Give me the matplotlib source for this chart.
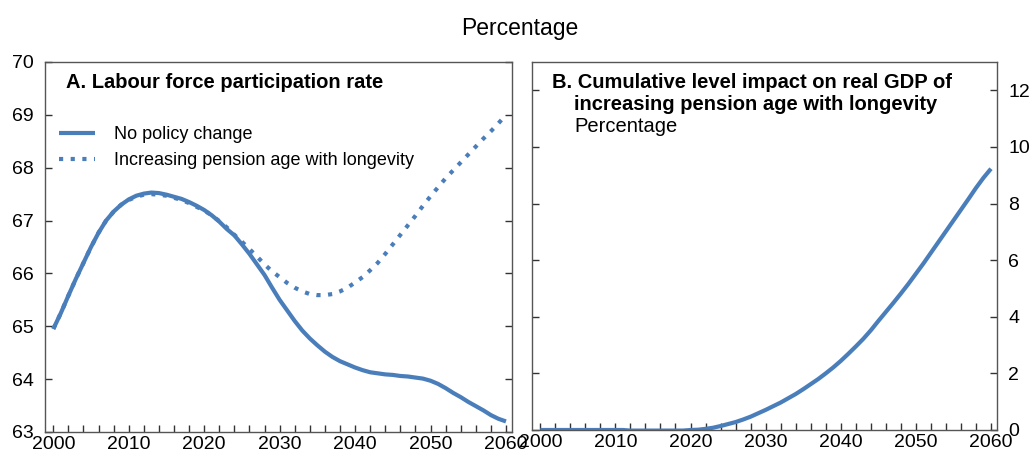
import numpy as np
import matplotlib
matplotlib.use("Agg")
import matplotlib.pyplot as plt
from matplotlib.ticker import MultipleLocator

plt.rcParams['font.family'] = ['Liberation Sans', 'DejaVu Sans']

years = list(range(2000, 2061))

no_policy = [64.95, 65.25, 65.58, 65.90, 66.20, 66.50, 66.77, 67.00, 67.17, 67.30,
             67.40, 67.47, 67.51, 67.53, 67.52, 67.49, 67.45, 67.41, 67.35, 67.28,
             67.20, 67.10, 66.98, 66.84, 66.72, 66.55, 66.37, 66.17, 65.97, 65.73,
             65.50, 65.30, 65.10, 64.92, 64.77, 64.64, 64.52, 64.42, 64.34, 64.28,
             64.22, 64.17, 64.13, 64.11, 64.09, 64.08, 64.06, 64.05, 64.03, 64.01,
             63.97, 63.91, 63.83, 63.74, 63.66, 63.57, 63.49, 63.41, 63.32, 63.25,
             63.20]

pension_longevity = [64.95, 65.25, 65.58, 65.90, 66.20, 66.50, 66.77, 67.00, 67.17, 67.30,
                     67.39, 67.45, 67.49, 67.50, 67.49, 67.47, 67.43, 67.39, 67.33, 67.26,
                     67.19, 67.10, 66.99, 66.87, 66.73, 66.60, 66.46, 66.32, 66.17, 66.04,
                     65.93, 65.82, 65.73, 65.66, 65.61, 65.59, 65.59, 65.61, 65.66, 65.73,
                     65.83, 65.93, 66.06, 66.20, 66.37, 66.55, 66.73, 66.91, 67.09, 67.28,
                     67.46, 67.63, 67.80, 67.95, 68.10, 68.25, 68.40, 68.55, 68.69, 68.84,
                     69.00]

gdp_impact = [0, 0, 0, 0, 0, 0, 0, 0, 0, 0,
              0, 0, -0.02, -0.02, -0.02, -0.02, -0.02, -0.02, -0.02, -0.02,
              0.00, 0.01, 0.04, 0.08, 0.14, 0.21, 0.28, 0.37, 0.47, 0.59,
              0.71, 0.84, 0.97, 1.12, 1.27, 1.44, 1.62, 1.80, 2.00, 2.21,
              2.44, 2.69, 2.95, 3.22, 3.52, 3.85, 4.17, 4.49, 4.82, 5.16,
              5.52, 5.88, 6.26, 6.64, 7.02, 7.40, 7.78, 8.16, 8.55, 8.91,
              9.23]

x_ticks = [2000, 2010, 2020, 2030, 2040, 2050, 2060]
a_yticks = [63, 64, 65, 66, 67, 68, 69, 70]
b_yticks = [0, 2, 4, 6, 8, 10, 12]

W, H = 1032, 457
fig = plt.figure(figsize=(W / 100, H / 100), dpi=100)

blue = '#4a7ebb'
spine_col = '#555555'

axA = fig.add_axes([45 / W, (H - 432) / H, (512 - 45) / W, (432 - 62) / H])
axB = fig.add_axes([532 / W, (H - 430) / H, (997 - 532) / W, (430 - 62) / H])

for ax in (axA, axB):
    for s in ax.spines.values():
        s.set_color(spine_col)
        s.set_linewidth(1.0)
    ax.set_xlim(1998.9, 2060.8)
    ax.set_xticks(x_ticks)
    ax.xaxis.set_minor_locator(MultipleLocator(2))
    ax.tick_params(axis='x', which='both', direction='in', length=5, width=1,
                   color='#333333', labelsize=14, pad=3, top=False)
    ax.tick_params(axis='y', which='both', direction='in', length=5, width=1,
                   color='#333333', labelsize=14, left=True, right=True)

# Panel A
axA.plot(years, no_policy, color=blue, lw=3.0, solid_capstyle='butt',
         label='No policy change')
axA.plot(years, pension_longevity, color=blue, lw=3.0, linestyle=(0, (1, 1.8)),
         dash_capstyle='butt', label='Increasing pension age with longevity')
axA.set_ylim(63, 70)
axA.set_yticks(a_yticks)
axA.tick_params(axis='y', labelleft=True, labelright=False, pad=8)
axA.text(0.045, 0.945, 'A. Labour force participation rate', transform=axA.transAxes,
         fontsize=14.5, fontweight='bold', ha='left', va='center')
axA.legend(loc='upper left', bbox_to_anchor=(0.0, 0.865), frameon=False, fontsize=13,
           handlelength=1.95, handletextpad=1.05, labelspacing=0.5, borderaxespad=0.4)

# Panel B
axB.plot(years, gdp_impact, color=blue, lw=3.0, solid_capstyle='butt')
axB.set_ylim(0, 13)
axB.set_yticks(b_yticks)
axB.tick_params(axis='y', labelleft=False, labelright=True, pad=8)
axB.text(20 / 465, 1 - 21 / 368, 'B. Cumulative level impact on real GDP of',
         transform=axB.transAxes, fontsize=14.5, fontweight='bold', ha='left', va='center')
axB.text(42 / 465, 1 - 43 / 368, 'increasing pension age with longevity',
         transform=axB.transAxes, fontsize=14.5, fontweight='bold', ha='left', va='center')
axB.text(42 / 465, 1 - 65 / 368, 'Percentage',
         transform=axB.transAxes, fontsize=14.5, ha='left', va='center')

fig.text(520 / W, 1 - 28 / H, 'Percentage', fontsize=16.5, ha='center', va='center')

fig.savefig('out.png', dpi=100)
